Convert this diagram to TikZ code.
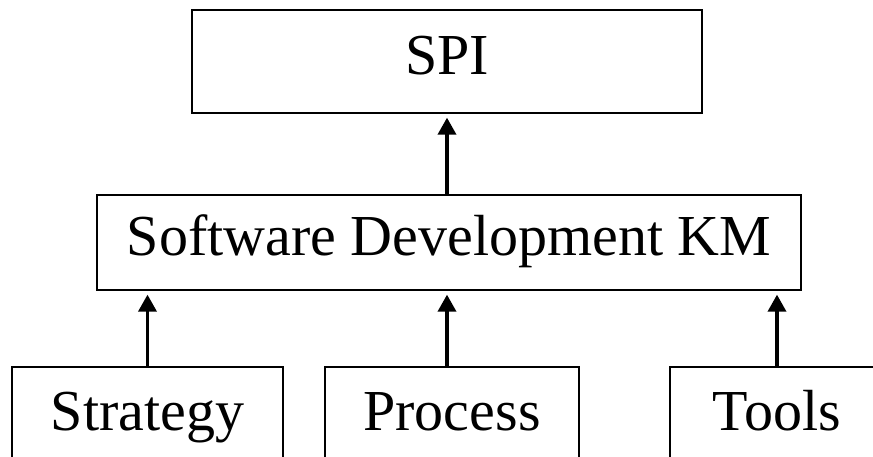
\documentclass[tikz,border=0pt]{standalone}
\usepackage{fontspec}
\setmainfont{Liberation Serif}
\usepackage{tikz}
\usetikzlibrary{arrows.meta,positioning}

\begin{document}
\begin{tikzpicture}[shorten >=4pt,on grid,
    box/.style={draw,line width=1.3pt,inner sep=0pt,font=\fontsize{58}{60}\selectfont,
                text height=40pt,text depth=14pt},
    up/.style={-{Triangle[width=18pt,length=17pt]},line width=3.5pt}]
    \useasboundingbox (-447pt,61.5pt) rectangle (426pt,-395.5pt);
    \node[box,minimum width=510pt,minimum height=103pt] (spi) {SPI};
    \node[box,minimum width=704pt,minimum height=95pt] (skm) [below=181pt of spi,xshift=2pt] {Software Development KM};
    \node[box,minimum width=271pt,minimum height=100pt] (strategy) [below left=174.5pt and 301.5pt of skm] {Strategy};
    \node[box,minimum width=254pt,minimum height=100pt] (process) [below=174.5pt of skm,xshift=3pt] {Process};
    \node[box,minimum width=214pt,minimum height=100pt] (tools) [below right=174.5pt and 328pt of skm] {Tools};
    \draw[up] (skm.north -| spi.south) -- (spi.south);
    \draw[up] (strategy.north) -- (strategy.north |- skm.south);
    \draw[up] (process.north -| spi.south) -- (skm.south -| spi.south);
    \draw[up] (tools.north) -- (tools.north |- skm.south);
\end{tikzpicture}
\end{document}
